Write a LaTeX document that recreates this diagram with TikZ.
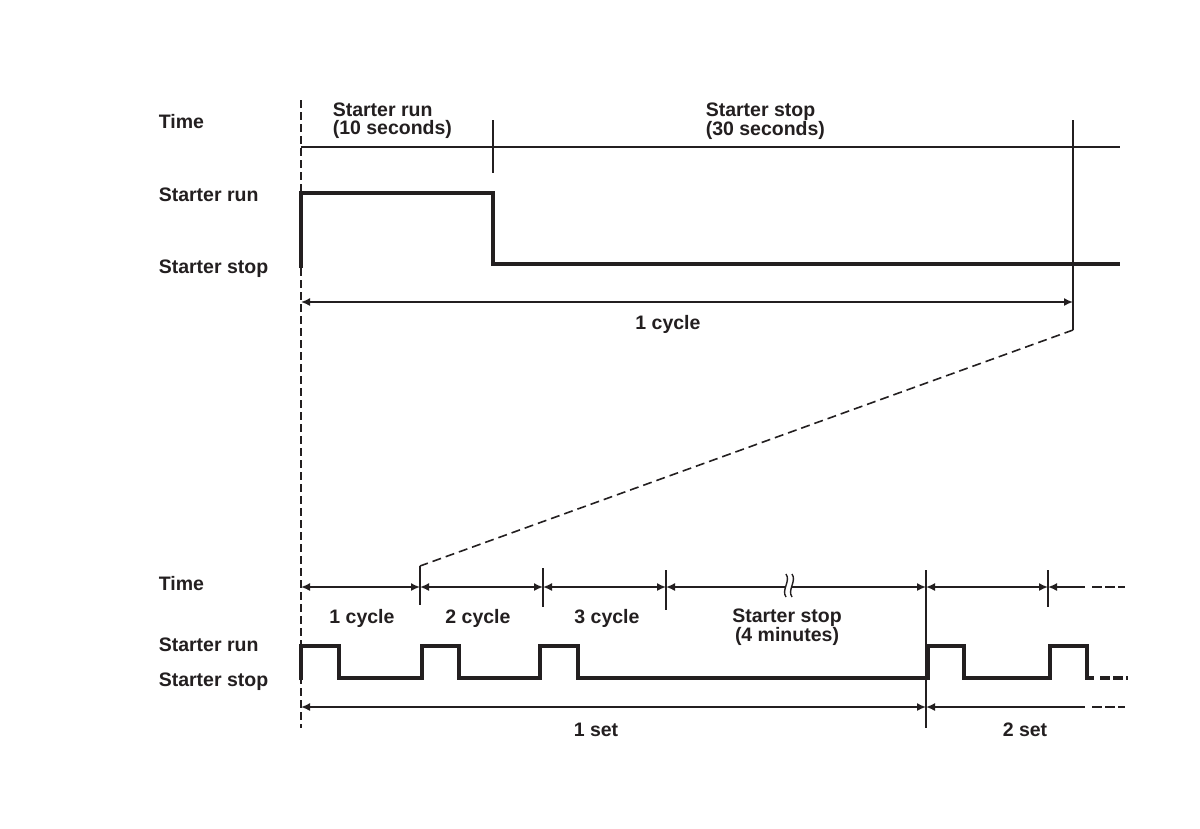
\documentclass[tikz,border=0pt]{standalone}
\usepackage{fontspec}
\setmainfont{Liberation Sans}
\usepackage{xcolor}
\usetikzlibrary{arrows.meta, calc}
\definecolor{ink}{HTML}{231F20}

\tikzset{
    lbl/.style={font=\fontsize{19.5}{18}\selectfont\bfseries, inner sep=0pt, text=ink},
    dim/.style={{Latex[length=9pt,width=8pt]}-{Latex[length=9pt,width=8pt]}},
    ldim/.style={{Latex[length=9pt,width=8pt]}-},
    wave/.style={line width=3.5pt, line join=miter},
    guide/.style={dash pattern=on 8pt off 4pt},
    cont/.style={dash pattern=on 10pt off 3pt}
}

\begin{document}
\begin{tikzpicture}[x=1pt, y=-1pt, color=ink, line width=1.6pt]
                    \useasboundingbox[fill=white] (0,0) rectangle (1200,828);

                    \node[lbl, anchor=base west] (timeA) at (158,128) {Time};
                    \node[lbl, anchor=base west] (runA)  at (158,201) {Starter run};
                    \node[lbl, anchor=base west] (stopA) at (158,273) {Starter stop};
                    \node[lbl, anchor=west, align=left] (runT)  at (332,121) {Starter run\\(10 seconds)};
                    \node[lbl, anchor=west, align=left] (stopT) at (705,121) {Starter stop\\(30 seconds)};

                    \coordinate (t0) at (301,147);
                    \coordinate (t1) at (493,147);
                    \coordinate (t2) at (1073,147);
                    \coordinate (t3) at (1120,147);
                    \draw (t0) -- (t3);
                    \draw ($(t1)+(0,-27)$) -- ($(t1)+(0,26)$);
                    \draw ($(t2)+(0,-27)$) -- (1073,330) coordinate (zoomA);

                    \draw[wave] (301,268) -- (301,193) -- (493,193) -- (493,264) -- (1120,264);

                    \coordinate (cyA) at (301,302);
                    \coordinate (cyB) at (1073,302);
                    \draw[dim] (cyA) -- (cyB);
                    \node[lbl, anchor=base] (cyT) at (668,329) {1 cycle};

                    \node[lbl, anchor=base west] (timeB) at (158,590) {Time};
                    \node[lbl, anchor=base west] (runB)  at (158,651) {Starter run};
                    \node[lbl, anchor=base west] (stopB) at (158,686) {Starter stop};

                    \foreach \x/\n in {301/0, 420/1, 543/2, 666/3, 926/4, 1048/5, 1085/6}
                        \coordinate (b\n) at (\x,587);
                    \foreach \a/\b in {0/1, 1/2, 2/3, 3/4, 4/5}
                        \draw[dim] (b\a) -- (b\b);
                    \draw[ldim] (b5) -- (b6);
                    \coordinate (b7) at (1125,587);
                    \draw[cont] ($(b6)+(7,0)$) -- (b7);

                    \coordinate (zoomB) at (420,566);
                    \draw[dashed, dash pattern=on 9pt off 5pt] (zoomA) -- (zoomB);
                    \draw (zoomB) -- ($(b1)+(0,18)$);
                    \draw ($(b2)+(0,-19)$) -- ($(b2)+(0,20)$);
                    \draw ($(b3)+(0,-17)$) -- ($(b3)+(0,23)$);
                    \draw ($(b4)+(0,-17)$) -- (926,728);
                    \draw ($(b5)+(0,-17)$) -- ($(b5)+(0,20)$);

                    \fill[white] (786,578) rectangle (792,596);
                    \foreach \x in {786,792}
                        \draw[line width=1.4pt] (\x,574) .. controls (\x+5,581) and (\x-5,590) .. (\x,597);

                    \node[lbl, anchor=base] (c1) at (362,623) {1 cycle};
                    \node[lbl, anchor=base] (c2) at (478,623) {2 cycle};
                    \node[lbl, anchor=base] (c3) at (607,623) {3 cycle};
                    \node[lbl, align=center] (stopC) at (787,627) {Starter stop\\(4 minutes)};

                    \draw[wave] (301,680) -- (301,646) -- (339,646) -- (339,678) -- (422,678)
                        -- (422,646) -- (459,646) -- (459,678) -- (540,678) -- (540,646)
                        -- (578,646) -- (578,678) -- (928,678) -- (928,646) -- (964,646)
                        -- (964,678) -- (1050,678) -- (1050,646) -- (1087,646) -- (1087,678)
                        -- (1094,678);
                    \draw[wave, cont] (1100,678) -- (1128,678);

                    \coordinate (s0) at (301,707);
                    \coordinate (s1) at (926,707);
                    \coordinate (s2) at (1085,707);
                    \coordinate (s3) at (1125,707);
                    \draw[dim] (s0) -- (s1);
                    \draw[ldim] (s1) -- (s2);
                    \draw[cont] ($(s2)+(7,0)$) -- (s3);
                    \node[lbl, anchor=base] (set1) at (596,736) {1 set};
                    \node[lbl, anchor=base] (set2) at (1025,736) {2 set};

                    \draw[guide] (301,100) -- (301,728);
\end{tikzpicture}
\end{document}
